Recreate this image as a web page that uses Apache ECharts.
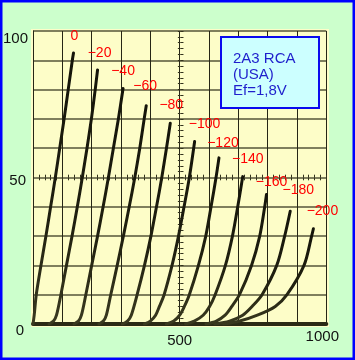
<!DOCTYPE html>
<html>
<head>
<meta charset="utf-8">
<script src="https://cdn.jsdelivr.net/npm/echarts@6/dist/echarts.min.js"></script>
<style>
html,body{margin:0;padding:0;background:#ccffcc;}
#c{width:355px;height:360px;}
</style>
</head>
<body>
<div id="c"></div>
<script>
// ---- data (plate voltage V, plate current mA) ----
const biasLabels = ['0','−20','−40','−60','−80','−100','−120','−140','−160','−180','−200'];
const curve0    = [[0,0],[4,3],[11,10],[27,20],[44,30],[60,40],[76,50],[91,60],[106,70],[120,80],[134,90],[138,92.5]];
const curveM20  = [[55,0],[70,1],[80,3],[95,10],[114,20],[133,30],[151,40],[168,50],[184,60],[199,70],[212,80],[220,86.7]];
const curveM40  = [[140,0],[155,1],[165,3],[180,10],[200,20],[220,30],[239,40],[257,50],[274,60],[291,70],[307,80.4]];
const curveM60  = [[225,0],[240,1],[250,3],[265,10],[287,20],[308,30],[328,40],[347,50],[364,60],[379,70],[386,74.5]];
const curveM80  = [[305,0],[322,1],[335,3],[355,10],[380,20],[402,30],[421,40],[439,50],[455,60],[468,68.5]];
const curveM100 = [[380,0],[400,1],[418,3],[431,6],[447,10],[474,20],[496,30],[515,40],[533,50],[551,62.3]];
const curveM120 = [[455,0],[480,1],[500,3],[516,6],[533,10],[564,20],[589,30],[607,40],[624,50],[634,56.7]];
const curveM140 = [[520,0],[550,1],[580,3],[602,6],[621,10],[656,20],[680,30],[698,40],[715,50.3]];
const curveM160 = [[590,0],[625,1],[655,3],[678,6],[704,10],[745,20],[773,30],[790,40],[796,44.2]];
const curveM180 = [[620,0],[670,1],[715,3],[747,6],[781,10],[831,20],[858,30],[877,38.5]];
const curveM200 = [[650,0],[705,1],[765,3],[826,6],[866,10],[924,20],[950,30],[956,32.5]];
const curves = [curve0,curveM20,curveM40,curveM60,curveM80,curveM100,curveM120,curveM140,curveM160,curveM180,curveM200];
const xTickLabels = [500, 1000];
const yTickLabels = [0, 50, 100];
const legendLines = ['2A3 RCA','(USA)','Ef=1,8V'];

// ---- styling ----
const FONT = '"Liberation Sans", Arial, sans-serif';
const labelOffsets = [[1,-17],[2,-17],[0,-17],[-1,-20],[1,-18],[10,-17],[4,-15],[5,-17],[5,-12],[8,-21],[9,-18]];
const G = {left:31, top:31, width:295.3, height:293};

const chart = echarts.init(document.getElementById('c'), null, {renderer:'canvas'});

const lineColor = new echarts.graphic.LinearGradient(0, 0, 0, 1, [
  {offset:0, color:'#141409'}, {offset:0.6, color:'#1f1f0f'}, {offset:1, color:'#3a3a20'}
]);

const series = curves.map((d, i) => ({
  type:'line', data:d, showSymbol:false, smooth:0.3,
  silent:true, animation:false, z:5,
  lineStyle:{width:3, color:lineColor, cap:'round', join:'round'},
  markPoint:{
    symbol:'circle', symbolSize:0, silent:true, animation:false,
    label:{show:true, position:'inside', offset:labelOffsets[i], formatter:biasLabels[i],
           color:'#ff0000', fontSize:14, fontFamily:FONT},
    data:[{coord:d[d.length-1]}]
  }
}));

const tickAxisX = (inside) => ({
  type:'value', gridIndex:0, min:0, max:1000, interval:20, position:'bottom',
  offset:-G.height/2,
  axisLine:{show:false, onZero:false},
  axisTick:{show:true, inside:inside, length:2.8, lineStyle:{color:'#33331c', width:1}},
  axisLabel:{show:false}, splitLine:{show:false}
});
const tickAxisY = (inside) => ({
  type:'value', gridIndex:0, min:0, max:100, interval:2, position:'left',
  offset:-G.width/2,
  axisLine:{show:false, onZero:false},
  axisTick:{show:true, inside:inside, length:2.8, lineStyle:{color:'#33331c', width:1}},
  axisLabel:{show:false}, splitLine:{show:false}
});

chart.setOption({
  backgroundColor:'#ccffcc',
  animation:false,
  grid:{left:G.left, top:G.top, width:G.width, height:G.height, show:false},
  xAxis:[{
    type:'value', min:0, max:1000, interval:100,
    axisLine:{show:true, onZero:false, lineStyle:{color:'#2a2a15', width:4}},
    axisTick:{show:false},
    axisLabel:{
      margin:5, color:'#111', fontSize:15, fontFamily:FONT,
      formatter:v => xTickLabels.includes(v) ? '{x' + v + '|' + v + '}' : '',
      rich:{ x500:{padding:[4,0,0,0], fontSize:15, fontFamily:FONT, color:'#111'},
             x1000:{padding:[0,8,0,0], fontSize:15, fontFamily:FONT, color:'#111'} }
    },
    splitLine:{show:true, lineStyle:{color:'#262616', width:1}}
  }, tickAxisX(false), tickAxisX(true)],
  yAxis:[{
    type:'value', min:0, max:100, interval:10,
    axisLine:{show:true, onZero:false, lineStyle:{color:'#262616', width:1}},
    axisTick:{show:false},
    axisLabel:{
      margin:5, color:'#111', fontSize:15, fontFamily:FONT,
      formatter:v => yTickLabels.includes(v) ? '{y' + v + '|' + v + '}' : '',
      rich:{ y100:{padding:[16,0,0,0], fontSize:15, fontFamily:FONT, color:'#111'},
             y50:{padding:[6,2,0,0], fontSize:15, fontFamily:FONT, color:'#111'},
             y0:{padding:[13,4,0,0], fontSize:15, fontFamily:FONT, color:'#111'} }
    },
    splitLine:{show:true, lineStyle:{color:'#55553a', width:1.6}}
  }, tickAxisY(false), tickAxisY(true)],
  graphic:[
    {type:'rect', z:-100, silent:true, shape:{x:31, y:29, width:298, height:298}, style:{fill:'#fdfdc8'}},
    {type:'rect', z:100, silent:true, shape:{x:1.25, y:1.25, width:352.5, height:357.5}, style:{fill:null, stroke:'#0000ff', lineWidth:2.5}},
    {type:'rect', z:100, silent:true, shape:{x:221, y:37, width:98, height:71}, style:{fill:'#ccffff', stroke:'#0a0aee', lineWidth:2}},
    {type:'text', z:101, silent:true, x:233, y:51.5,
     style:{text:legendLines.join('\n'), font:'15px ' + FONT, fill:'#1f1fcc', lineHeight:15.7, verticalAlign:'top', align:'left'}}
  ],
  series:series
});
</script>
</body>
</html>
